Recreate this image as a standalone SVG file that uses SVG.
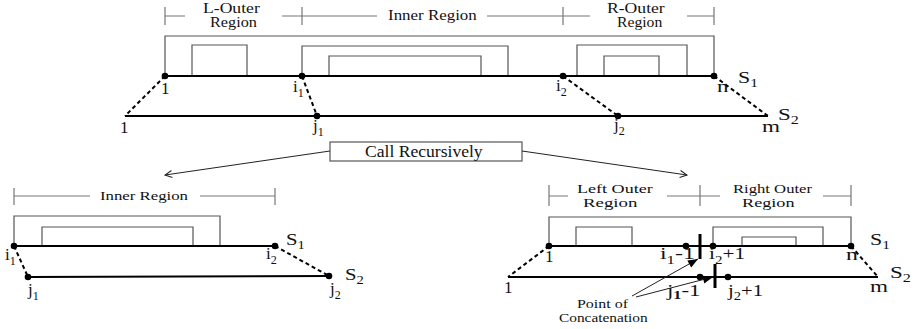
<svg xmlns="http://www.w3.org/2000/svg" width="914" height="329" viewBox="0 0 914 329" font-family="'Liberation Serif', 'Times New Roman', serif">
  <style>
    text { font-family: 'Liberation Serif', 'Times New Roman', serif; fill: #111; }
    .lbl { font-size: 17px; }
    .sub { font-size: 12px; }
    .reg { font-size: 14px; }
    .reg2 { font-size: 13px; }
    .note { font-size: 12px; }
    .seq { stroke: #000; stroke-width: 2; fill: none; }
    .gap { stroke: #000; stroke-width: 2; stroke-dasharray: 4 3; fill: none; }
    .box { stroke: #555; stroke-width: 1.2; fill: none; }
    .tick { stroke: #777; stroke-width: 1.2; fill: none; }
    .dot { fill: #000; }
    .thin { stroke: #222; stroke-width: 1; fill: none; }
    .bar { stroke: #000; stroke-width: 3; fill: none; }
  </style>
  <defs>
    <marker id="open" markerWidth="10" markerHeight="10" refX="0" refY="0" viewBox="-9 -5 10 10" orient="auto" markerUnits="userSpaceOnUse">
      <path d="M-7,-3.5 L0,0 L-7,3.5" fill="none" stroke="#222" stroke-width="1"/>
    </marker>
    <marker id="solid" markerWidth="12" markerHeight="12" refX="0" refY="0" viewBox="-11 -6 12 12" orient="auto" markerUnits="userSpaceOnUse">
      <path d="M-10,-4 L0,0 L-10,4 Z" fill="#000"/>
    </marker>
  </defs>

  <!-- Full problem: S1 and S2 with outer and inner regions -->
  <g id="top-diagram">
    <g id="top-regions">
      <path class="tick" d="M165,7 V25 M302,7 V25 M563,7 V25 M714,7 V25"/>
      <path class="tick" d="M165,16 H185 M282,16 H377 M487,16 H590 M687,16 H714"/>
      <text class="reg" transform="translate(203,13) scale(1.26,1)">L-Outer</text>
      <text class="reg" transform="translate(210,27) scale(1.16,1)">Region</text>
      <text class="reg" transform="translate(388,20) scale(1.21,1)">Inner Region</text>
      <text class="reg" transform="translate(607,13) scale(1.26,1)">R-Outer</text>
      <text class="reg" transform="translate(617,27) scale(1.12,1)">Region</text>
    </g>
    <g id="top-boxes">
      <path class="box" d="M165,76 V36 H714 V76"/>
      <path class="box" d="M192,76 V45 H247 V76"/>
      <path class="box" d="M302,76 V46 H508 V76"/>
      <path class="box" d="M329,76 V56 H481 V76"/>
      <path class="box" d="M577,76 V45 H687 V76"/>
      <path class="box" d="M604,76 V56 H659 V76"/>
    </g>
    <g id="top-sequences">
      <line class="seq" x1="165" y1="76" x2="714" y2="76"/>
      <line class="seq" x1="125" y1="116" x2="768" y2="116"/>
      <path class="gap" d="M165,76 L125,116 M302,76 L317,116 M563,76 L618,116 M714,76 L768,116"/>
      <circle class="dot" cx="165" cy="76" r="3.3"/>
      <circle class="dot" cx="302" cy="76" r="3.3"/>
      <circle class="dot" cx="563" cy="76" r="3.3"/>
      <circle class="dot" cx="714" cy="76" r="3.3"/>
      <circle class="dot" cx="317" cy="116" r="3.3"/>
      <circle class="dot" cx="618" cy="116" r="3.3"/>
    </g>
    <g id="top-labels">
      <text class="lbl" x="161" y="94">1</text>
      <text class="lbl" x="293" y="92">i<tspan class="sub" dy="5">1</tspan></text>
      <text class="lbl" x="556" y="91">i<tspan class="sub" dy="5">2</tspan></text>
      <text class="lbl" transform="translate(717,92) scale(1.35,1)">n</text>
      <text class="lbl" transform="translate(738,83) scale(1.29,1)">S<tspan class="sub" dy="4">1</tspan></text>
      <text class="lbl" transform="translate(778,120) scale(1.35,1)">S<tspan class="sub" dy="4">2</tspan></text>
      <text class="lbl" transform="translate(762,132) scale(1.36,1)">m</text>
      <text class="lbl" x="120" y="133">1</text>
      <text class="lbl" x="313" y="131">j<tspan class="sub" dy="5">1</tspan></text>
      <text class="lbl" x="614" y="130">j<tspan class="sub" dy="5">2</tspan></text>
    </g>
  </g>

  <!-- Recursive call box -->
  <g id="call">
    <rect x="330" y="142" width="192" height="19" fill="#fff" stroke="#555" stroke-width="1.2"/>
    <text font-size="16" transform="translate(365,157) scale(1.1,1)">Call Recursively</text>
  </g>

  <g id="connectors">
    <line class="thin" x1="330" y1="151" x2="165" y2="175" marker-end="url(#open)"/>
    <line class="thin" x1="522" y1="151" x2="687" y2="175" marker-end="url(#open)"/>
  </g>

  <!-- Sub-problem: inner region -->
  <g id="inner-diagram">
    <path class="tick" d="M14,188 V205 M275,188 V205 M14,196 H90 M200,196 H275"/>
    <text class="reg2" transform="translate(100,200) scale(1.29,1)">Inner Region</text>
    <path class="box" d="M14,246 V216 H220 V246"/>
    <path class="box" d="M42,246 V227 H193 V246"/>
    <line class="seq" x1="14" y1="246" x2="275" y2="246"/>
    <line class="seq" x1="28" y1="277" x2="329" y2="276"/>
    <path class="gap" d="M14,246 L28,277 M275,246 L329,276"/>
    <circle class="dot" cx="14" cy="246" r="3.3"/>
    <circle class="dot" cx="275" cy="246" r="3.3"/>
    <circle class="dot" cx="28" cy="277" r="3.3"/>
    <circle class="dot" cx="329" cy="276" r="3.3"/>
    <text class="lbl" x="5" y="260">i<tspan class="sub" dy="5">1</tspan></text>
    <text class="lbl" x="266" y="259">i<tspan class="sub" dy="5">2</tspan></text>
    <text class="lbl" transform="translate(286,245) scale(1.22,1)">S<tspan class="sub" dy="4">1</tspan></text>
    <text class="lbl" transform="translate(345,280) scale(1.22,1)">S<tspan class="sub" dy="4">2</tspan></text>
    <text class="lbl" x="28" y="295">j<tspan class="sub" dy="5">1</tspan></text>
    <text class="lbl" x="330" y="294">j<tspan class="sub" dy="5">2</tspan></text>
  </g>

  <!-- Sub-problem: outer regions concatenated -->
  <g id="outer-diagram">
    <path class="tick" d="M549,185 V206 M700,185 V206 M851,185 V206"/>
    <path class="tick" d="M549,196 H568 M667,196 H720 M823,196 H851"/>
    <text class="reg2" transform="translate(577,193) scale(1.39,1)">Left Outer</text>
    <text class="reg2" transform="translate(583,207) scale(1.45,1)">Region</text>
    <text class="reg2" transform="translate(733,193) scale(1.28,1)">Right Outer</text>
    <text class="reg2" transform="translate(742,207) scale(1.4,1)">Region</text>
    <path class="box" d="M549,246 V217 H851 V246"/>
    <path class="box" d="M576,246 V227 H632 V246"/>
    <path class="box" d="M713,246 V227 H823 V246"/>
    <path class="box" d="M742,246 V237 H796 V246"/>
    <line class="seq" x1="549" y1="246" x2="851" y2="246"/>
    <line class="seq" x1="508" y1="277" x2="878" y2="277"/>
    <path class="gap" d="M549,246 L508,277 M851,246 L878,277"/>
    <circle class="dot" cx="549" cy="246" r="3.3"/>
    <circle class="dot" cx="686" cy="246" r="3.3"/>
    <circle class="dot" cx="713" cy="246" r="3.3"/>
    <circle class="dot" cx="851" cy="246" r="3.3"/>
    <circle class="dot" cx="700" cy="277" r="3.3"/>
    <circle class="dot" cx="728" cy="277" r="3.3"/>
    <line class="bar" x1="700" y1="234" x2="700" y2="259"/>
    <line class="bar" x1="715" y1="264" x2="715" y2="288"/>
    <text class="lbl" x="545" y="262">1</text>
    <text class="lbl" x="504" y="293">1</text>
    <text class="lbl" transform="translate(660,259) scale(1.4,1)">i<tspan class="sub" dy="5">1</tspan><tspan dy="-5">-1</tspan></text>
    <text class="lbl" transform="translate(709,259) scale(1.25,1)">i<tspan class="sub" dy="5">2</tspan><tspan dy="-5">+1</tspan></text>
    <text class="lbl" transform="translate(846,260) scale(1.4,1)">n</text>
    <text class="lbl" transform="translate(870,245) scale(1.29,1)">S<tspan class="sub" dy="4">1</tspan></text>
    <text class="lbl" transform="translate(890,278) scale(1.35,1)">S<tspan class="sub" dy="4">2</tspan></text>
    <text class="lbl" transform="translate(870,292) scale(1.36,1)">m</text>
    <text class="lbl" transform="translate(667,296) scale(1.35,1)">j<tspan class="sub" dy="3" font-weight="bold">1</tspan><tspan dy="-3">-1</tspan></text>
    <text class="lbl" transform="translate(728,296) scale(1.22,1)">j<tspan class="sub" dy="4">2</tspan><tspan dy="-4">+1</tspan></text>
    <text class="note" transform="translate(577,308) scale(1.33,1)">Point of</text>
    <text class="note" transform="translate(559,322) scale(1.28,1)">Concatenation</text>
  </g>

  <g id="concat-pointers">
    <line class="thin" x1="632" y1="296" x2="698" y2="259" marker-end="url(#solid)"/>
    <line class="thin" x1="636" y1="297" x2="713" y2="277" marker-end="url(#solid)"/>
  </g>
</svg>
